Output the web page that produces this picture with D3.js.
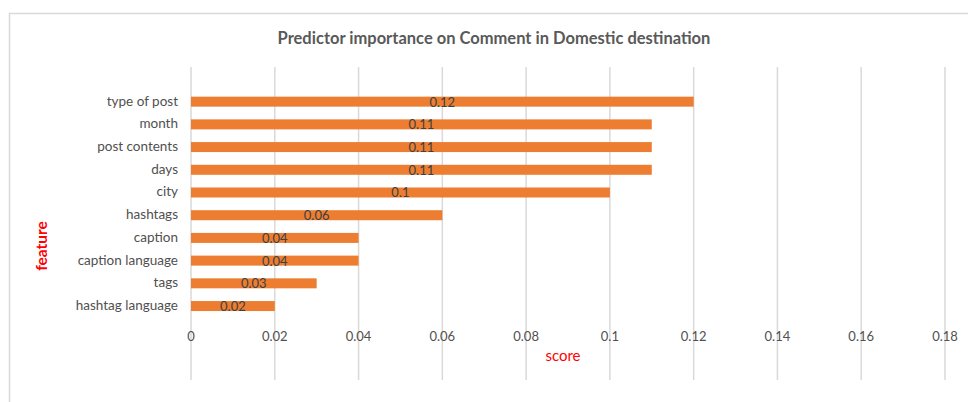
<!DOCTYPE html>
<html>
<head>
<meta charset="utf-8">
<script src="https://cdn.jsdelivr.net/npm/d3@7"></script>
<style>
  body { margin: 0; background: #fff; }
  svg { display: block; font-family: Lato, "Open Sans", sans-serif; }
</style>
</head>
<body>
<div id="plot"></div>
<script>
// features, top to bottom
var features = ["type of post", "month", "post contents", "days", "city",
  "hashtags", "caption", "caption language", "tags", "hashtag language"];
var scores = [0.12, 0.11, 0.11, 0.11, 0.1, 0.06, 0.04, 0.04, 0.03, 0.02];
var xTicks = [0, 0.02, 0.04, 0.06, 0.08, 0.1, 0.12, 0.14, 0.16, 0.18];

var W = 968, H = 402;

var svg = d3.select("div#plot")
  .append("svg")
    .attr("width", W)
    .attr("height", H);

// chart frame
svg.append("rect")
  .attr("x", 9.5).attr("y", 13.5)
  .attr("width", 960).attr("height", 400)
  .attr("fill", "none")
  .attr("stroke", "#d9d9d9")
  .attr("stroke-width", 1.5);

var x = d3.scaleLinear().domain([0, 0.18]).range([191, 945]);
var y = d3.scaleBand().domain(features).range([90.3, 317.4]).paddingInner(0.56).paddingOuter(0.28);

// vertical gridlines
svg.append("g").selectAll("line")
  .data(xTicks)
  .enter().append("line")
    .attr("x1", function(d) { return x(d); })
    .attr("x2", function(d) { return x(d); })
    .attr("y1", 67)
    .attr("y2", 380)
    .attr("stroke", "#d9d9d9")
    .attr("stroke-width", 1.5);

// bars
svg.selectAll(".bar")
  .data(scores)
  .enter().append("rect")
    .attr("class", "bar")
    .attr("x", x(0))
    .attr("y", function(d, i) { return y(features[i]); })
    .attr("width", function(d) { return x(d) - x(0); })
    .attr("height", y.bandwidth())
    .attr("fill", "#ed7d31");

// data labels
svg.selectAll(".lbl")
  .data(scores)
  .enter().append("text")
    .attr("class", "lbl")
    .attr("x", function(d) { return (x(0) + x(d)) / 2; })
    .attr("y", function(d, i) { return y(features[i]) + y.bandwidth() / 2 + 5; })
    .attr("text-anchor", "middle")
    .attr("fill", "#404040")
    .style("font-size", "13px")
    .text(function(d) { return d; });

// y category labels
svg.selectAll(".cat")
  .data(features)
  .enter().append("text")
    .attr("class", "cat")
    .attr("x", 178)
    .attr("y", function(d) { return y(d) + y.bandwidth() / 2 + 4; })
    .attr("text-anchor", "end")
    .attr("fill", "#505050")
    .style("font-size", "13.5px")
    .text(function(d) { return d; });

// x tick labels
svg.selectAll(".xt")
  .data(xTicks)
  .enter().append("text")
    .attr("class", "xt")
    .attr("x", function(d) { return x(d); })
    .attr("y", 341)
    .attr("text-anchor", "middle")
    .attr("fill", "#505050")
    .style("font-size", "13px")
    .text(function(d) { return d; });

// title
svg.append("text")
  .attr("x", 494)
  .attr("y", 44)
  .attr("text-anchor", "middle")
  .attr("fill", "#595959")
  .style("font-size", "16.5px")
  .style("font-weight", "bold")
  .text("Predictor importance on Comment in Domestic destination");

// axis titles
svg.append("text")
  .attr("x", 563)
  .attr("y", 361)
  .attr("text-anchor", "middle")
  .attr("fill", "#ff0000")
  .style("font-size", "15px")
  .text("score");

svg.append("text")
  .attr("transform", "translate(47,246) rotate(-90)")
  .attr("text-anchor", "middle")
  .attr("fill", "#ff0000")
  .style("font-size", "15.5px")
  .style("font-weight", "bold")
  .text("feature");
</script>
</body>
</html>
